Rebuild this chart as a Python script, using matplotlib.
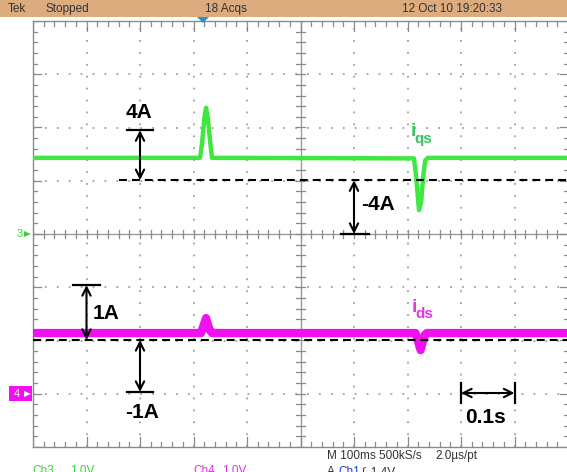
import numpy as np
import matplotlib.pyplot as plt
from matplotlib.patches import Rectangle, Polygon

# Ch3 (green, i_qs): time [s], level [div]
t3 = [-0.5, -0.188, -0.184, -0.1795, -0.1765, -0.1735, -0.170, -0.1655, -0.16, 0.212, 0.216, 0.2215, 0.2255, 0.229, 0.233, 0.238, 0.5]
v3 = [1.43, 1.43, 1.70, 2.20, 2.37, 2.20, 1.85, 1.43, 1.43, 1.42, 1.10, 0.45, 0.60, 1.05, 1.38, 1.43, 1.43]
# Ch4 (magenta, i_ds)
t4 = [-0.5, -0.186, -0.1765, -0.170, -0.165, 0.215, 0.2245, 0.232, 0.236, 0.5]
v4 = [-1.86, -1.86, -1.58, -1.80, -1.86, -1.86, -2.18, -1.90, -1.86, -1.86]
# zero reference levels [div]
ref3 = 1.01
ref4 = -1.99

top_texts = [("Tek", 8), ("Stopped", 45), ("18 Acqs", 205), ("12 Oct 10 19:20:33", 402)]

W, H = 567, 472
fig = plt.figure(figsize=(W / 100, H / 100), dpi=100)
fx = lambda x: x / W
fy = lambda y: 1 - y / H

NARROW = ['Liberation Sans Narrow', 'Liberation Sans', 'DejaVu Sans']
BOLD = ['Liberation Sans', 'Arial', 'DejaVu Sans']

# graticule axes: 10 x 8 divisions, 0.1 s/div
ax = fig.add_axes([fx(33), fy(447), 535 / W, 426 / H])
ax.set_xlim(-0.5, 0.5)
ax.set_ylim(-4, 4)
ax.set_xticks([])
ax.set_yticks([])
for s in ax.spines.values():
    s.set_color('#8a8a8a')
    s.set_linewidth(1.0)
ax.spines['right'].set_visible(False)

grid_c = '#a0a0a0'
for gx in [-0.4, -0.3, -0.2, -0.1, 0.1, 0.2, 0.3, 0.4]:
    ax.plot([gx, gx], [-4, 4], color=grid_c, lw=1.3, ls=(0, (1, 5.6)), zorder=1)
for gy in [-3, -2, -1, 1, 2, 3]:
    ax.plot([-0.5, 0.5], [gy, gy], color=grid_c, lw=1.3, ls=(0, (1, 5.6)), zorder=1)

# center cross with minor ticks
ax.axvline(0, color='#9a9a9a', lw=1.0, zorder=1)
ax.axhline(0, color='#9a9a9a', lw=1.0, zorder=1)
for mx in np.arange(-0.5, 0.5001, 0.02):
    ax.plot([mx, mx], [-0.075, 0.075], color='#8a8a8a', lw=0.9, zorder=1)
    big = abs(round(mx * 10) - mx * 10) < 1e-6
    ax.plot([mx, mx], [4, 4 - (0.18 if big else 0.1)], color='#8a8a8a', lw=0.9, zorder=1)
    ax.plot([mx, mx], [-4, -4 + (0.18 if big else 0.1)], color='#8a8a8a', lw=0.9, zorder=1)
for my in np.arange(-4, 4.001, 0.2):
    ax.plot([-0.0075, 0.0075], [my, my], color='#8a8a8a', lw=0.9, zorder=1)
    big = abs(round(my) - my) < 1e-6
    ax.plot([-0.5, -0.5 + (0.015 if big else 0.008)], [my, my], color='#8a8a8a', lw=0.9, zorder=1)
    ax.plot([0.5, 0.5 - (0.015 if big else 0.008)], [my, my], color='#8a8a8a', lw=0.9, zorder=1)

# reference (zero) lines
ax.plot([-0.34, 0.5], [ref3, ref3], color='k', lw=1.5, ls=(0, (3.8, 2.4)), zorder=4)
ax.plot([-0.5, 0.5], [ref4, ref4], color='k', lw=1.5, ls=(0, (3.8, 2.4)), zorder=4)

# traces
ax.plot(t3, v3, color='#3ee83e', lw=3.2, solid_joinstyle='round', zorder=3)
ax.plot(t4, v4, color='#f010f0', lw=6.0, solid_joinstyle='round', zorder=3)

# annotations
def varrow(x, y1, y2):
    ax.annotate('', xy=(x, y1), xytext=(x, y2),
                arrowprops=dict(arrowstyle='<->', color='k', lw=1.5, mutation_scale=15,
                                shrinkA=0, shrinkB=0), zorder=5)

def cap(x0, x1, y):
    ax.plot([x0, x1], [y, y], color='k', lw=1.6, zorder=5)

varrow(-0.3, ref3, 1.95)
cap(-0.3243, -0.2757, 1.95)
ax.text(-0.302, 2.28, '4A', fontsize=15, fontweight='bold', family=BOLD, ha='center', va='center')

varrow(0.1, ref3, 0.0)
cap(0.075, 0.128, 0.0)
ax.text(0.114, 0.545, '-4A', fontsize=15, fontweight='bold', family=BOLD, ha='left', va='center')

varrow(-0.4, -0.958, ref4)
cap(-0.425, -0.375, -0.958)
ax.text(-0.388, -1.50, '1A', fontsize=15, fontweight='bold', family=BOLD, ha='left', va='center')

varrow(-0.3, ref4, -2.967)
cap(-0.3243, -0.2757, -2.967)
ax.text(-0.297, -3.36, '-1A', fontsize=15, fontweight='bold', family=BOLD, ha='center', va='center')

ax.annotate('', xy=(0.3, -2.986), xytext=(0.4, -2.986),
            arrowprops=dict(arrowstyle='<->', color='k', lw=1.5, mutation_scale=15,
                            shrinkA=0, shrinkB=0), zorder=5)
ax.plot([0.3, 0.3], [-2.80, -3.17], color='k', lw=1.6, zorder=5)
ax.plot([0.4, 0.4], [-2.80, -3.17], color='k', lw=1.6, zorder=5)
ax.text(0.346, -3.446, '0.1s', fontsize=15, fontweight='bold', family=BOLD, ha='center', va='center')

# channel labels
ax.text(0.2055, 1.84, 'i', fontsize=14, fontweight='bold', family=BOLD, color='#2fc75a', va='baseline')
ax.text(0.2125, 1.71, 'qs', fontsize=11, fontweight='bold', family=BOLD, color='#2fc75a', va='baseline')
ax.text(0.2075, -1.47, 'i', fontsize=14, fontweight='bold', family=BOLD, color='#e238e2', va='baseline')
ax.text(0.2145, -1.58, 'ds', fontsize=11, fontweight='bold', family=BOLD, color='#e238e2', va='baseline')

# top status bar
fig.patches.append(Rectangle((0, fy(17)), 1, 17 / H, transform=fig.transFigure,
                             facecolor='#dcab7e', edgecolor='none', zorder=0))
for txt, px in top_texts:
    fig.text(fx(px), fy(9), txt, fontsize=8.5, family=NARROW, color='#333333', va='center')
fig.patches.append(Polygon([(fx(197), fy(17)), (fx(209), fy(17)), (fx(203), fy(23))],
                           closed=True, transform=fig.transFigure, facecolor='#2a90d2',
                           edgecolor='none', zorder=5))

# channel ground markers
fig.text(fx(17), fy(234), '3', fontsize=8, family=NARROW, color='#3ad23a', va='center')
fig.patches.append(Polygon([(fx(24), fy(231)), (fx(24), fy(237)), (fx(31), fy(234))],
                           closed=True, transform=fig.transFigure, facecolor='#3ad23a',
                           edgecolor='none'))
fig.patches.append(Rectangle((fx(9), fy(401)), 23 / W, 15 / H, transform=fig.transFigure,
                             facecolor='#f010f0', edgecolor='none'))
fig.text(fx(14), fy(394), '4', fontsize=8, family=NARROW, color='white', va='center')
fig.patches.append(Polygon([(fx(24), fy(391)), (fx(24), fy(397)), (fx(31), fy(394))],
                           closed=True, transform=fig.transFigure, facecolor='white',
                           edgecolor='none'))

# bottom readouts (cut at the lower edge, as on the screen grab)
fig.text(fx(327), fy(456), 'M 100ms 500kS/s', fontsize=8.5, family=NARROW, color='#333333', va='center')
fig.text(fx(435), fy(456), '2.0\u00b5s/pt', fontsize=8.5, family=NARROW, color='#333333', va='center')
fig.text(fx(32), fy(471), 'Ch3', fontsize=8.5, family=NARROW, color='#3ad23a', va='center')
fig.text(fx(70), fy(471), '1.0V', fontsize=8.5, family=NARROW, color='#3ad23a', va='center')
fig.text(fx(193), fy(471), 'Ch4', fontsize=8.5, family=NARROW, color='#e030e0', va='center')
fig.text(fx(222), fy(471), '1.0V', fontsize=8.5, family=NARROW, color='#e030e0', va='center')
fig.text(fx(327), fy(472), 'A', fontsize=8.5, family=NARROW, color='#333333', va='center')
fig.text(fx(338), fy(472), 'Ch1', fontsize=8.5, family=NARROW, color='#2040d0', va='center')
fig.text(fx(362), fy(472), '\u222b  1.4V', fontsize=8.5, family=NARROW, color='#333333', va='center')

fig.savefig('out.png', dpi=100, facecolor='white')
